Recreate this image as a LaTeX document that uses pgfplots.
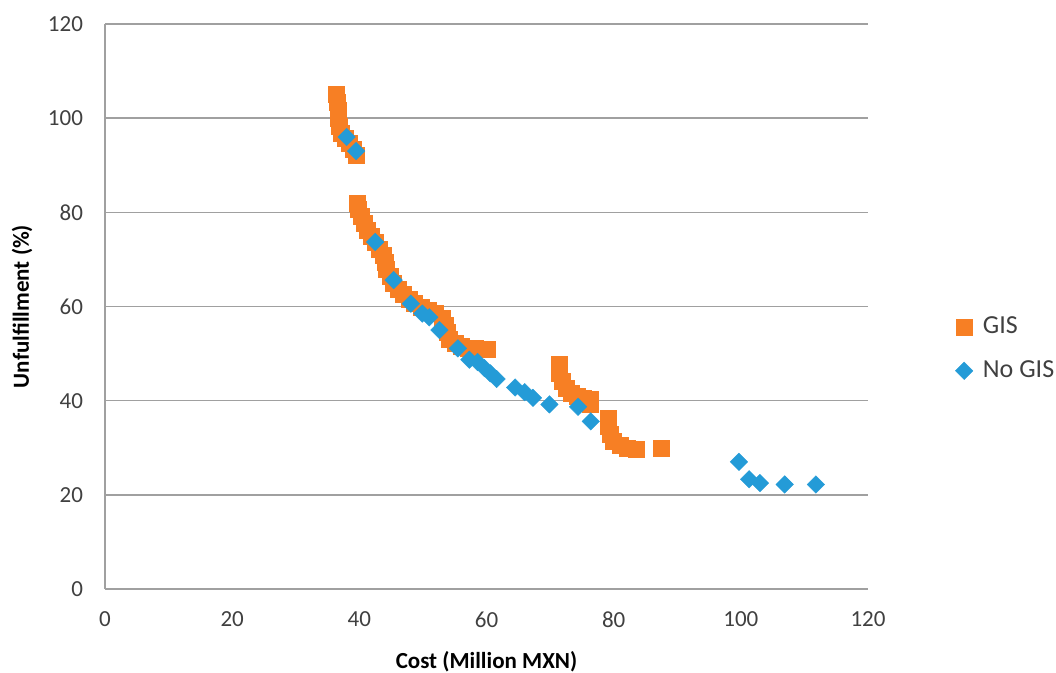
\documentclass[border=0pt]{standalone}
\usepackage{pgfplots}
\pgfplotsset{compat=1.18}
\usepackage{fontspec}
\setmainfont{Carlito}
\definecolor{gisorange}{RGB}{247,127,36}
\definecolor{noblue}{RGB}{36,155,215}
\definecolor{gridgray}{RGB}{160,160,160}
\definecolor{ticktext}{RGB}{64,64,64}
\begin{document}
\begin{tikzpicture}
\begin{axis}[
  name=ax,
  scale only axis,
  width=381.5pt, height=282.5pt,
  xmin=0, xmax=120, ymin=0, ymax=120,
  xtick={0,20,...,120}, ytick={0,20,...,120},
  axis x line*=bottom, axis y line*=left,
  axis line style={draw=gridgray, line width=0.8pt, -},
  ymajorgrids,
  grid style={draw=gridgray, line width=0.8pt},
  tick style={draw=none},
  font=\fontsize{11.5}{13}\selectfont,
  ticklabel style={text=ticktext, font=\fontsize{11.5}{13}\selectfont},
  /pgf/number format/assume math mode=true,
  xticklabel style={yshift=-8pt},
  yticklabel style={xshift=-7.5pt},
  xlabel={\bfseries Cost (Million MXN)},
  ylabel={\bfseries Unfulfillment (\%)},
  xlabel style={at={(axis description cs:0.5,-0.1292)}, anchor=center, font=\fontsize{11.5}{13}\selectfont},
  ylabel style={at={(axis description cs:-0.1088,0.5)}, anchor=center, font=\fontsize{11.5}{13}\selectfont},
  legend style={draw=none, fill=none, at={(axis description cs:1,0.425)}, anchor=west, xshift=40.5pt, row sep=8pt, font=\fontsize{13}{15}\selectfont, text=ticktext},
  legend cell align=left,
  clip=false,
]
\addplot[only marks, mark=square*, mark size=4pt, mark options={fill=gisorange, draw=gisorange, line width=0.2pt}] coordinates {
(36.4,105.1) (36.5,103.4) (36.6,101.7) (36.6,100.0) (36.8,98.3) (37.1,96.9)
(37.7,95.8) (38.4,94.7) (39.0,93.5) (39.5,92.2)
(39.7,82.0) (39.9,80.7) (40.3,79.2) (40.7,77.7) (41.2,76.3) (41.8,75.0)
(42.5,73.7) (43.1,72.2) (43.7,70.9) (44.0,69.5) (44.3,68.0) (44.8,66.5)
(45.4,65.0) (46.1,63.7) (46.9,62.7) (47.8,61.6) (48.7,60.7)
(49.8,59.9) (50.9,59.3) (52.0,58.6) (53.0,57.6) (53.5,56.1) (53.8,54.6)
(54.2,53.1) (55.0,52.3) (56.0,51.6) (57.1,51.2) (58.2,51.2) (59.3,51.0) (60.1,51.0)
(71.4,47.8) (71.5,45.9) (71.9,44.2) (72.5,42.7) (73.3,41.6) (74.2,41.0)
(75.2,40.6) (76.3,40.4) (76.3,39.3)
(79.1,36.3) (79.1,34.6) (79.4,32.9) (80.0,31.4) (81.0,30.6) (82.1,29.9) (83.5,29.7)
(87.4,29.9)
};
\addlegendentry{\hspace{3pt}GIS}
\addplot[only marks, mark=square*, mark size=3.1pt, mark options={rotate=45, fill=noblue, draw=noblue, line width=0.2pt}] coordinates {
(38.0,96.0) (39.5,93.0) (42.5,73.7) (45.4,65.6) (48.1,60.6) (49.9,58.5)
(51.0,57.7) (52.6,55.0) (55.5,51.1) (57.3,48.7) (58.6,48.2) (59.7,46.9)
(60.6,45.8) (61.6,44.6) (64.5,42.8) (66.0,41.8) (67.3,40.6) (69.9,39.2)
(74.4,38.7) (76.4,35.6) (99.7,27.0) (101.3,23.3) (103.0,22.5) (106.9,22.2) (111.8,22.2)
};
\addlegendentry{\hspace{3pt}No GIS}
\end{axis}
\pgfresetboundingbox
\path[use as bounding box] ([xshift=-52.5pt,yshift=-42pt]ax.south west) rectangle ([xshift=94pt,yshift=12pt]ax.north east);
\end{tikzpicture}
\end{document}
